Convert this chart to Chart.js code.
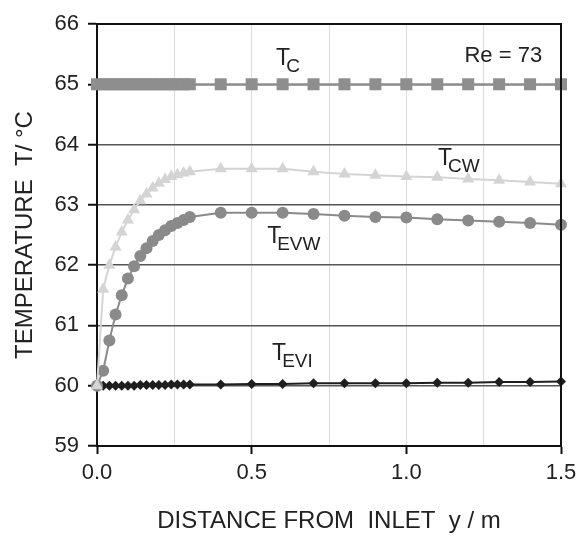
<!DOCTYPE html>
<html>
<head>
<meta charset="utf-8">
<script src="https://cdn.jsdelivr.net/npm/chart.js@4/dist/chart.umd.min.js"></script>
<style>
  html, body { margin: 0; padding: 0; background: #fff; }
  #wrap { width: 579px; height: 536px; }
</style>
</head>
<body>
<div id="wrap"><canvas id="chart" width="579" height="536"></canvas></div>
<script>
// distance from inlet (m)
var distance = [0, 0.02, 0.04, 0.06, 0.08, 0.10, 0.12, 0.14, 0.16, 0.18, 0.20, 0.22, 0.24, 0.26, 0.28, 0.30,
  0.4, 0.5, 0.6, 0.7, 0.8, 0.9, 1.0, 1.1, 1.2, 1.3, 1.4, 1.5];

// temperatures (deg C)
var tC = [65, 65, 65, 65, 65, 65, 65, 65, 65, 65, 65, 65, 65, 65, 65, 65,
  65, 65, 65, 65, 65, 65, 65, 65, 65, 65, 65, 65];
var tCW = [60.0, 61.6, 62.0, 62.3, 62.55, 62.75, 62.92, 63.07, 63.18, 63.28, 63.36, 63.42, 63.47, 63.5, 63.53, 63.55,
  63.6, 63.6, 63.6, 63.55, 63.51, 63.49, 63.47, 63.46, 63.43, 63.41, 63.38, 63.35];
var tEVW = [60.0, 60.25, 60.75, 61.18, 61.5, 61.78, 61.98, 62.15, 62.28, 62.4, 62.5, 62.58, 62.65, 62.7, 62.75, 62.8,
  62.87, 62.87, 62.87, 62.85, 62.82, 62.8, 62.79, 62.76, 62.74, 62.72, 62.7, 62.67];
var tEVI = [60.0, 60.0, 60.0, 60.0, 60.0, 60.0, 60.0, 60.01, 60.01, 60.01, 60.01, 60.01, 60.02, 60.02, 60.02, 60.02,
  60.02, 60.03, 60.03, 60.04, 60.04, 60.04, 60.04, 60.05, 60.05, 60.06, 60.06, 60.07];

var FONT = "'Liberation Sans', Arial, sans-serif";

function toPoints(values) {
  return distance.map(function (d, i) {
    return { x: d, y: values[i] };
  });
}

// curve labels: [main, subscript, x, y] (y = baseline of the T)
var curveLabels = [
  ["T", "C", 0.579, 65.32],
  ["T", "CW", 1.102, 63.66],
  ["T", "EVW", 0.55, 62.37],
  ["T", "EVI", 0.566, 60.43]
];

var labelPlugin = {
  id: "labels",
  afterDatasetsDraw: function (chart) {
    var ctx = chart.ctx;
    var xs = chart.scales.x, ys = chart.scales.y;
    var a = chart.chartArea;
    ctx.save();
    // frame on top and right
    ctx.strokeStyle = "#111";
    ctx.lineWidth = 2;
    ctx.beginPath();
    ctx.moveTo(a.left, a.top);
    ctx.lineTo(a.right, a.top);
    ctx.lineTo(a.right, a.bottom);
    ctx.stroke();

    ctx.fillStyle = "#222";
    ctx.textBaseline = "alphabetic";
    ctx.textAlign = "left";
    curveLabels.forEach(function (l) {
      var px = xs.getPixelForValue(l[2]);
      var py = ys.getPixelForValue(l[3]);
      ctx.font = "23px " + FONT;
      ctx.fillText(l[0], px, py);
      var w = ctx.measureText(l[0]).width;
      ctx.font = "19px " + FONT;
      ctx.fillText(l[1], px + w - 4, py + 7);
    });
    ctx.font = "22px " + FONT;
    ctx.textAlign = "right";
    ctx.fillText("Re = 73", xs.getPixelForValue(1.439), ys.getPixelForValue(65.365));
    ctx.restore();
  }
};

var chart = new Chart(document.getElementById("chart"), {
  type: "line",
  data: {
    datasets: [
      {
        label: "TC",
        data: toPoints(tC),
        borderColor: "#8e8e8e",
        backgroundColor: "#8e8e8e",
        borderWidth: 2,
        pointStyle: "rect",
        pointRadius: 8.5,
        pointBorderWidth: 0
      },
      {
        label: "TCW",
        data: toPoints(tCW),
        borderColor: "#d4d4d4",
        backgroundColor: "#d4d4d4",
        borderWidth: 2,
        pointStyle: "triangle",
        pointRadius: 7,
        pointBorderWidth: 0
      },
      {
        label: "TEVW",
        data: toPoints(tEVW),
        borderColor: "#8a8a8a",
        backgroundColor: "#8a8a8a",
        borderWidth: 2,
        pointStyle: "circle",
        pointRadius: 6,
        pointBorderWidth: 0
      },
      {
        label: "TEVI",
        data: toPoints(tEVI),
        borderColor: "#1e1e1e",
        backgroundColor: "#1e1e1e",
        borderWidth: 2,
        pointStyle: "rectRot",
        pointRadius: 5,
        pointBorderWidth: 0
      }
    ]
  },
  options: {
    responsive: false,
    animation: false,
    clip: false,
    layout: { padding: { top: 24, right: 18, left: 0, bottom: 0 } },
    plugins: {
      legend: { display: false },
      tooltip: { enabled: false }
    },
    scales: {
      x: {
        type: "linear",
        min: 0,
        max: 1.5,
        afterFit: function (scale) {
          scale.height = 90;
          scale.paddingLeft = 0;
          scale.paddingRight = 0;
        },
        border: { color: "#111", width: 2 },
        grid: {
          color: "#dcdcdc",
          tickColor: function (c) {
            var v = c.tick ? c.tick.value : 0;
            return Math.abs(v * 2 - Math.round(v * 2)) < 1e-6 ? "#111" : "rgba(0,0,0,0)";
          },
          tickLength: 8,
          tickWidth: 2
        },
        ticks: {
          stepSize: 0.25,
          autoSkip: false,
          maxRotation: 0,
          color: "#222",
          padding: 6,
          font: { family: FONT, size: 22 },
          callback: function (v) {
            return Math.abs(v * 2 - Math.round(v * 2)) < 1e-6 ? v.toFixed(1) : "";
          }
        },
        title: {
          display: true,
          text: "DISTANCE FROM  INLET  y / m",
          color: "#222",
          font: { family: FONT, size: 24 },
          padding: { top: 0, bottom: 0 }
        }
      },
      y: {
        min: 59,
        max: 66,
        afterFit: function (scale) {
          scale.width = 97;
          scale.paddingTop = 0;
          scale.paddingBottom = 0;
        },
        border: { color: "#111", width: 2 },
        grid: {
          color: "#555",
          lineWidth: 1.5,
          tickColor: "#111",
          tickLength: 9,
          tickWidth: 2
        },
        ticks: {
          stepSize: 1,
          color: "#222",
          padding: 9,
          font: { family: FONT, size: 22 }
        },
        title: {
          display: true,
          text: "TEMPERATURE  T/ °C",
          color: "#222",
          font: { family: FONT, size: 24 },
          padding: { top: 11, bottom: 0 }
        }
      }
    }
  },
  plugins: [labelPlugin]
});
</script>
</body>
</html>
